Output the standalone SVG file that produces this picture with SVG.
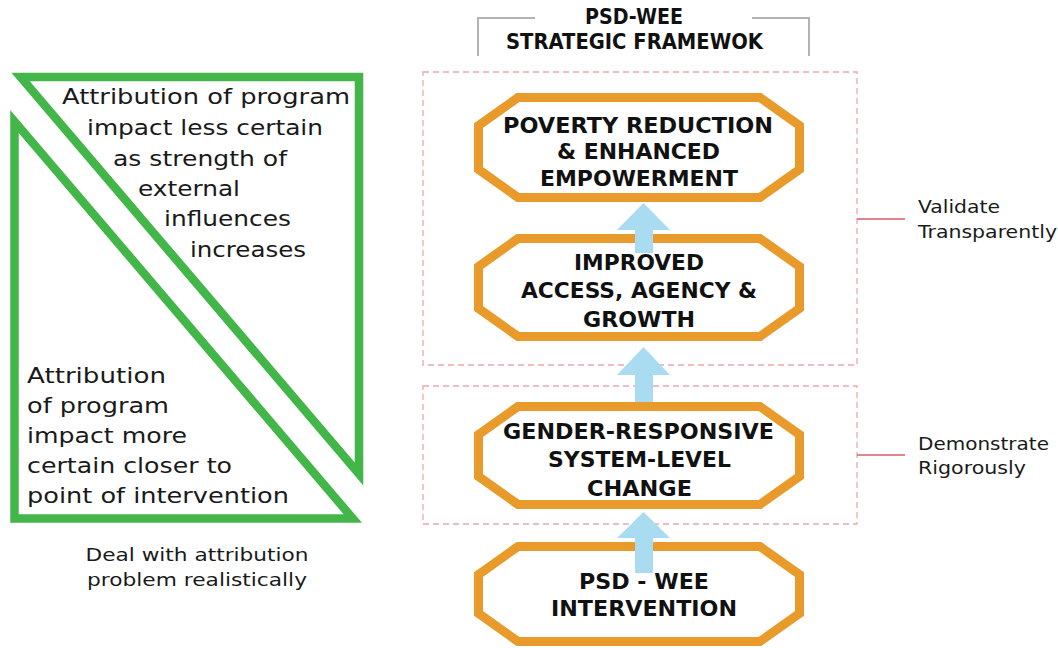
<svg xmlns="http://www.w3.org/2000/svg" width="1058" height="648" viewBox="0 0 1058 648">
<style>
.tri{fill:none;stroke:#43b649;stroke-width:8.5;stroke-linejoin:miter;stroke-miterlimit:10}
.body{font-family:"DejaVu Sans","Liberation Sans",sans-serif;font-size:22px;fill:#1a1a1a}
.cap{font-family:"DejaVu Sans","Liberation Sans",sans-serif;font-size:17.5px;fill:#1a1a1a}
.node{fill:#fff;stroke:#e89b2a;stroke-width:9;stroke-linejoin:miter}
.nt{font-family:"DejaVu Sans","Liberation Sans",sans-serif;font-size:20.5px;font-weight:bold;fill:#111;text-anchor:middle}
.zone{fill:none;stroke:#eca7b0;stroke-width:1.3;stroke-dasharray:6 4}
.tick{stroke:#d45d6b;stroke-width:1.6}
.arrow{fill:#a9dcf1}
.br{fill:none;stroke:#b3b3b3;stroke-width:2}
</style>
<rect width="1058" height="648" fill="#fff"/>
<g id="attribution-upper">
<polygon class="tri" points="20.6,77 359,77 359,474"/>
<text class="body"><tspan x="62" y="104" textLength="288" lengthAdjust="spacingAndGlyphs">Attribution of program</tspan><tspan x="87" y="135" textLength="236" lengthAdjust="spacingAndGlyphs">impact less certain</tspan><tspan x="113" y="166" textLength="174" lengthAdjust="spacingAndGlyphs">as strength of</tspan><tspan x="138" y="196" textLength="102" lengthAdjust="spacingAndGlyphs">external</tspan><tspan x="164" y="226" textLength="127" lengthAdjust="spacingAndGlyphs">influences</tspan><tspan x="190" y="257" textLength="116" lengthAdjust="spacingAndGlyphs">increases</tspan></text>
</g>
<g id="attribution-lower">
<polygon class="tri" points="14.5,121.5 14.5,518.5 352.8,518.5"/>
<text class="body"><tspan x="27" y="383" textLength="139" lengthAdjust="spacingAndGlyphs">Attribution</tspan><tspan x="27" y="413" textLength="142" lengthAdjust="spacingAndGlyphs">of program</tspan><tspan x="27" y="443" textLength="160" lengthAdjust="spacingAndGlyphs">impact more</tspan><tspan x="27" y="473" textLength="205" lengthAdjust="spacingAndGlyphs">certain closer to</tspan><tspan x="27" y="503" textLength="262" lengthAdjust="spacingAndGlyphs">point of intervention</tspan></text>
</g>
<g id="caption">
<text class="cap" text-anchor="middle"><tspan x="197" y="561" textLength="223" lengthAdjust="spacingAndGlyphs">Deal with attribution</tspan><tspan x="197" y="586" textLength="220" lengthAdjust="spacingAndGlyphs">problem realistically</tspan></text>
</g>
<g id="title">
<path class="br" d="M535,18 H478 V56 M752,18 H809 V56"/>
<text class="nt" font-size="20"><tspan x="634" y="24" textLength="98" lengthAdjust="spacingAndGlyphs">PSD-WEE</tspan><tspan x="634.5" y="49" textLength="257" lengthAdjust="spacingAndGlyphs">STRATEGIC FRAMEWOK</tspan></text>
</g>
<g id="zones">
<rect class="zone" x="423" y="72" width="434" height="293"/>
<rect class="zone" x="423" y="386" width="434" height="138"/>
<line class="tick" x1="857" y1="219" x2="905" y2="219"/>
<line class="tick" x1="857" y1="455" x2="905" y2="455"/>
</g>
<g id="label-validate">
<text class="cap"><tspan x="918" y="213" textLength="82" lengthAdjust="spacingAndGlyphs">Validate</tspan><tspan x="918" y="238" textLength="139" lengthAdjust="spacingAndGlyphs">Transparently</tspan></text>
</g>
<g id="label-demonstrate">
<text class="cap"><tspan x="918" y="450" textLength="131" lengthAdjust="spacingAndGlyphs">Demonstrate</tspan><tspan x="918" y="474" textLength="108" lengthAdjust="spacingAndGlyphs">Rigorously</tspan></text>
</g>
<g id="node-poverty">
<polygon class="node" points="518,97.5 760,97.5 799.5,125.5 799.5,169.5 760,197.5 518,197.5 478.5,169.5 478.5,125.5"/>
<text class="nt"><tspan x="638" y="133" textLength="270" lengthAdjust="spacingAndGlyphs">POVERTY REDUCTION</tspan><tspan x="638.5" y="159" textLength="163" lengthAdjust="spacingAndGlyphs">&amp; ENHANCED</tspan><tspan x="639" y="186" textLength="198" lengthAdjust="spacingAndGlyphs">EMPOWERMENT</tspan></text>
</g>
<g id="node-improved">
<polygon class="node" points="518,238.5 760,238.5 799.5,266.5 799.5,308.5 760,336.5 518,336.5 478.5,308.5 478.5,266.5"/>
<text class="nt"><tspan x="639" y="270" textLength="130" lengthAdjust="spacingAndGlyphs">IMPROVED</tspan><tspan x="639" y="298" textLength="236" lengthAdjust="spacingAndGlyphs">ACCESS, AGENCY &amp;</tspan><tspan x="639" y="327" textLength="112" lengthAdjust="spacingAndGlyphs">GROWTH</tspan></text>
</g>
<g id="node-gender">
<polygon class="node" points="518,406.5 760,406.5 799.5,434.5 799.5,476.5 760,504.5 518,504.5 478.5,476.5 478.5,434.5"/>
<text class="nt"><tspan x="638.5" y="439" textLength="271" lengthAdjust="spacingAndGlyphs">GENDER-RESPONSIVE</tspan><tspan x="639.5" y="467" textLength="183" lengthAdjust="spacingAndGlyphs">SYSTEM-LEVEL</tspan><tspan x="639.5" y="496" textLength="105" lengthAdjust="spacingAndGlyphs">CHANGE</tspan></text>
</g>
<g id="node-intervention">
<polygon class="node" points="518,546.5 760,546.5 799.5,574.5 799.5,613.5 760,641.5 518,641.5 478.5,613.5 478.5,574.5"/>
<text class="nt"><tspan x="644" y="589" textLength="130" lengthAdjust="spacingAndGlyphs">PSD - WEE</tspan><tspan x="644" y="616" textLength="186" lengthAdjust="spacingAndGlyphs">INTERVENTION</tspan></text>
</g>
<g id="connectors">
<polygon class="arrow" points="643.5,203 670,230 653,230 653,253 635,253 635,230 617,230"/>
<polygon class="arrow" points="643.5,347 670,375 653,375 653,402 635,402 635,375 617,375"/>
<polygon class="arrow" points="643.5,512 670,538 653,538 653,573 635,573 635,538 617,538"/>
</g>
</svg>
